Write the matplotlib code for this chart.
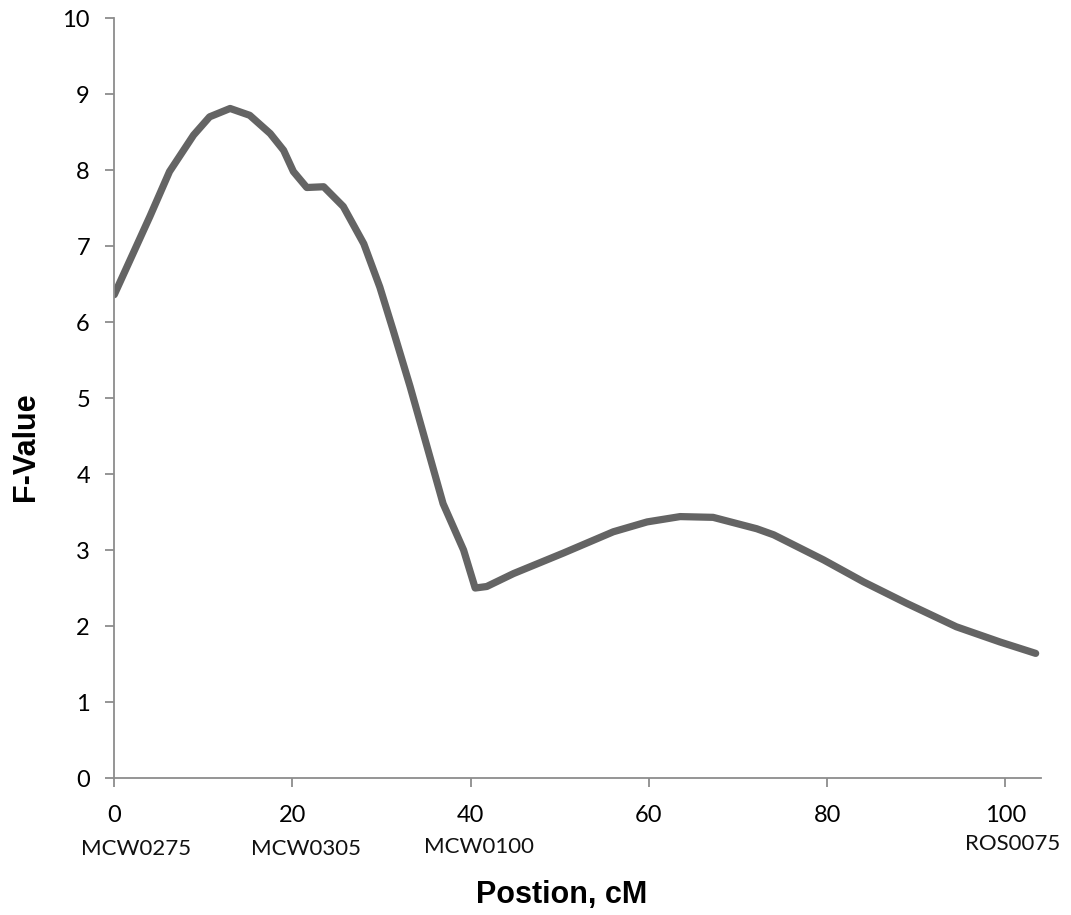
import matplotlib
matplotlib.use("Agg")
from matplotlib import pyplot as plt

FSIZE_LABEL = 22
FSIZE_TICK = 17
FSIZE_MARKER = 16
AXIS_COLOR = "#8c8c8c"
LINE_COLOR = "#646464"

# F-value profile along the linkage group
position_cm = [0, 2.1, 4.0, 6.2, 8.9, 10.7, 13.0, 15.2, 17.5, 19.0, 20.1,
               21.6, 23.5, 25.7, 28.0, 29.8, 31.3, 33.2, 35.1, 36.9, 39.2,
               40.5, 41.8, 44.8, 50.4, 56.0, 59.8, 63.5, 67.2, 72.1, 74.0,
               79.6, 84.1, 88.9, 94.5, 99.4, 103.4]
f_value = [6.36, 6.90, 7.39, 7.98, 8.46, 8.70, 8.81, 8.72, 8.48, 8.26, 7.98,
           7.77, 7.78, 7.52, 7.03, 6.46, 5.89, 5.15, 4.36, 3.61, 3.00,
           2.50, 2.52, 2.69, 2.96, 3.24, 3.37, 3.44, 3.43, 3.28, 3.20,
           2.87, 2.58, 2.30, 1.99, 1.79, 1.64]

# microsatellite markers under the x axis
marker_names = ["MCW0275", "MCW0305", "MCW0100", "ROS0075"]
marker_x = [2.5, 21.5, 40.9, 100.8]
marker_y = [-0.093, -0.093, -0.091, -0.087]

x_ticks = [0, 20, 40, 60, 80, 100]
y_ticks = list(range(0, 11))

fig = plt.figure(figsize=(10.71, 9.15), dpi=100)
ax = fig.add_axes([0.1067, 0.1497, 0.8653, 0.8306])

ax.plot(position_cm, f_value, color=LINE_COLOR, linewidth=5.2,
        solid_capstyle="round", solid_joinstyle="round")

ax.set_xlim(0, 104)
ax.set_ylim(0, 10)
ax.set_xticks(x_ticks)
ax.set_yticks(y_ticks)

for side in ["top", "right"]:
    ax.spines[side].set_visible(False)
for side in ["left", "bottom"]:
    ax.spines[side].set_color(AXIS_COLOR)
    ax.spines[side].set_linewidth(1.3)

ax.tick_params(axis="both", direction="out", length=6.5, width=1.3,
               color=AXIS_COLOR, labelsize=FSIZE_TICK)
ax.tick_params(axis="y", pad=11)
ax.tick_params(axis="x", pad=13)
for lbl in ax.get_xticklabels() + ax.get_yticklabels():
    lbl.set_fontfamily("Lato")

for name, mx, my in zip(marker_names, marker_x, marker_y):
    ax.text(mx, my, name, transform=ax.get_xaxis_transform(),
            ha="center", va="center", fontsize=FSIZE_MARKER,
            family="Lato", color="#111111")

# axis titles placed in figure pixels
fig.text(562 / 1071, 1 - 895 / 915, "Postion, cM", ha="center", va="center",
         fontsize=FSIZE_LABEL, fontweight="bold", family="Liberation Sans")
fig.text(26 / 1071, 1 - 447 / 915, "F-Value", ha="center", va="center",
         rotation=90, fontsize=FSIZE_LABEL, fontweight="bold",
         family="Liberation Sans")

fig.savefig("out.png", dpi=100)
